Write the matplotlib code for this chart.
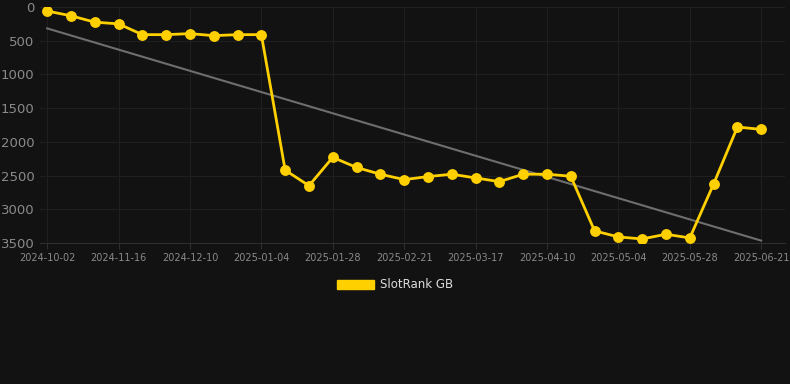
import numpy as np
import matplotlib.pyplot as plt
from matplotlib.patches import Patch

# weekly-ish snapshots, only every third label is shown on the axis
dates = ['2024-10-02', '2024-10-17', '2024-11-01', '2024-11-16', '2024-11-24',
         '2024-12-02', '2024-12-10', '2024-12-18', '2024-12-26', '2025-01-04',
         '2025-01-12', '2025-01-20', '2025-01-28', '2025-02-05', '2025-02-13',
         '2025-02-21', '2025-03-01', '2025-03-09', '2025-03-17', '2025-03-25',
         '2025-04-02', '2025-04-10', '2025-04-18', '2025-04-26', '2025-05-04',
         '2025-05-12', '2025-05-20', '2025-05-28', '2025-06-05', '2025-06-13',
         '2025-06-21']
rank = [60, 130, 225, 250, 410, 410, 395, 425, 410, 410,
        2420, 2650, 2230, 2380, 2480, 2560, 2515, 2480, 2535, 2590,
        2480, 2480, 2510, 3320, 3410, 3440, 3370, 3425, 2625, 1780,
        1815]

bg = '#121212'
gold = '#FFD000'

x = np.arange(len(dates))
coeffs = np.polyfit(x, rank, 1)
trend = np.polyval(coeffs, x[[0, -1]])

fig = plt.figure(figsize=(7.9, 3.84), dpi=100, facecolor=bg)
ax = fig.add_axes([40 / 790, 1 - 243 / 384, 745 / 790, 236 / 384])
ax.set_facecolor(bg)

ax.plot(x[[0, -1]], trend, color='#6e6e6e', linewidth=1.5, zorder=2)
ax.plot(x, rank, color=gold, linewidth=2.0, marker='o', markersize=6.8,
        zorder=3)

ax.set_ylim(3500, 0)
ax.set_xlim(-0.3, 31.0)
ax.set_yticks(np.arange(0, 3501, 500))
ax.set_xticks(x[::3])
ax.set_xticklabels(dates[::3])

ax.grid(True, color='#1f1f1f', linewidth=0.8)
ax.set_axisbelow(True)
for s in ['top', 'right', 'left']:
    ax.spines[s].set_visible(False)
ax.spines['bottom'].set_color('#2e2e2e')
ax.tick_params(axis='y', length=0, colors='#8a8a8a', labelsize=9.5, pad=4)
ax.tick_params(axis='x', length=4, color='#2e2e2e', colors='#8a8a8a',
               labelsize=7, pad=3)

handle = Patch(facecolor=gold, edgecolor=gold)
fig.legend([handle], ['SlotRank GB'], loc='center', bbox_to_anchor=(0.5, 1 - 285 / 384),
           frameon=False, labelcolor='#dddddd', fontsize=8.5,
           handlelength=3.2, handleheight=0.9, handletextpad=0.5)

fig.savefig('out.png', dpi=100, facecolor=bg)
